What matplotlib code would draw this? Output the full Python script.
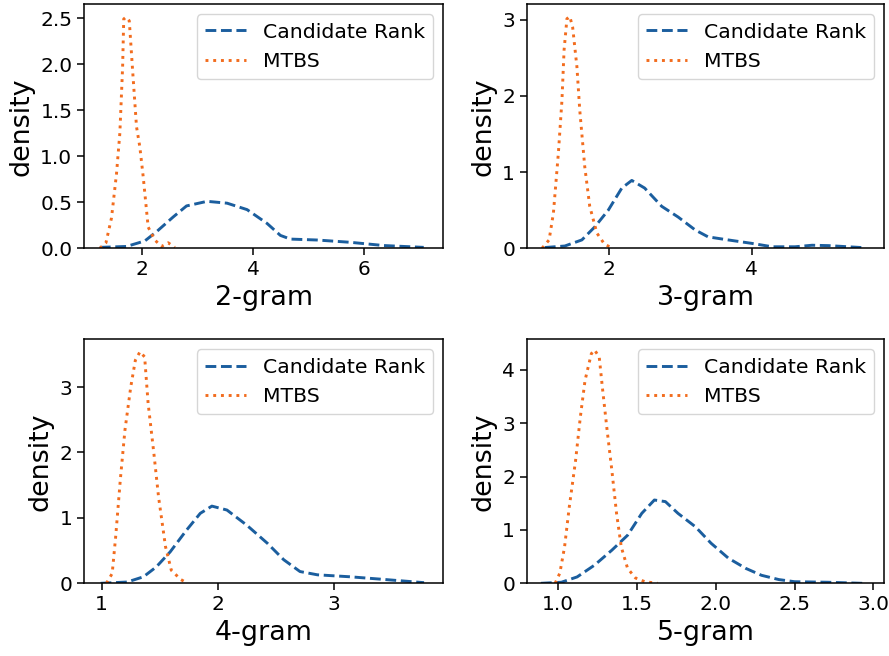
import numpy as np
import matplotlib
matplotlib.use('Agg')
import matplotlib.pyplot as plt

# values (x, density)
cr2_x = [1.24, 1.72, 2.05, 2.26, 2.56, 2.80, 3.17, 3.53, 3.89, 4.25, 4.49, 4.67, 5.15, 5.75, 6.35, 7.07]
cr2_y = [0.01, 0.02, 0.08, 0.18, 0.34, 0.46, 0.51, 0.49, 0.42, 0.27, 0.14, 0.10, 0.09, 0.065, 0.03, 0.01]
mt2_x = [1.24, 1.35, 1.45, 1.54, 1.60, 1.65, 1.67, 1.71, 1.77, 1.83, 1.90, 1.96, 2.02, 2.11, 2.23, 2.35, 2.47, 2.59]
mt2_y = [0.0, 0.06, 0.33, 0.81, 1.25, 1.97, 2.49, 2.51, 2.47, 1.93, 1.32, 1.10, 0.78, 0.23, 0.09, 0.02, 0.06, 0.01]

cr3_x = [1.10, 1.38, 1.62, 1.80, 1.99, 2.18, 2.32, 2.50, 2.74, 2.97, 3.21, 3.39, 3.67, 4.00, 4.29, 4.61, 4.85, 5.08, 5.54]
cr3_y = [0.01, 0.03, 0.11, 0.28, 0.50, 0.79, 0.89, 0.79, 0.55, 0.41, 0.24, 0.15, 0.11, 0.065, 0.02, 0.02, 0.04, 0.035, 0.01]
mt3_x = [1.06, 1.16, 1.22, 1.29, 1.34, 1.37, 1.41, 1.45, 1.49, 1.55, 1.59, 1.66, 1.73, 1.83, 1.94, 2.06]
mt3_y = [0.0, 0.11, 0.46, 1.25, 1.94, 2.60, 3.01, 3.04, 2.90, 2.38, 1.81, 1.07, 0.55, 0.20, 0.05, 0.0]

cr4_x = [0.99, 1.22, 1.36, 1.47, 1.59, 1.73, 1.85, 1.95, 2.08, 2.25, 2.43, 2.57, 2.71, 2.86, 3.14, 3.43, 3.78]
cr4_y = [0.0, 0.02, 0.10, 0.25, 0.48, 0.81, 1.07, 1.18, 1.12, 0.89, 0.61, 0.36, 0.18, 0.13, 0.10, 0.06, 0.01]
mt4_x = [1.04, 1.09, 1.12, 1.16, 1.20, 1.25, 1.29, 1.33, 1.37, 1.40, 1.45, 1.49, 1.55, 1.60, 1.68, 1.74]
mt4_y = [0.0, 0.15, 0.71, 1.58, 2.34, 3.00, 3.41, 3.54, 3.46, 2.75, 1.98, 1.32, 0.56, 0.20, 0.06, 0.0]

cr5_x = [0.89, 1.02, 1.12, 1.23, 1.34, 1.44, 1.53, 1.61, 1.68, 1.76, 1.87, 1.97, 2.08, 2.19, 2.29, 2.40, 2.50, 2.71, 2.93]
cr5_y = [0.0, 0.02, 0.12, 0.34, 0.62, 0.90, 1.31, 1.56, 1.53, 1.31, 1.06, 0.75, 0.47, 0.28, 0.15, 0.07, 0.03, 0.02, 0.0]
mt5_x = [0.98, 1.01, 1.04, 1.07, 1.11, 1.14, 1.17, 1.21, 1.23, 1.26, 1.28, 1.31, 1.34, 1.37, 1.40, 1.44, 1.49, 1.55, 1.63]
mt5_y = [0.0, 0.19, 0.68, 1.43, 2.30, 3.11, 3.80, 4.30, 4.37, 4.24, 3.67, 2.87, 2.12, 1.31, 0.68, 0.28, 0.10, 0.03, 0.0]

panels = [
    ('2-gram', cr2_x, cr2_y, mt2_x, mt2_y, (0.955, 7.42), (0, 2.65), [2, 4, 6], [0.0, 0.5, 1.0, 1.5, 2.0, 2.5], '%.1f'),
    ('3-gram', cr3_x, cr3_y, mt3_x, mt3_y, (0.846, 5.86), (0, 3.2), [2, 4], [0, 1, 2, 3], '%d'),
    ('4-gram', cr4_x, cr4_y, mt4_x, mt4_y, (0.847, 3.945), (0, 3.73), [1, 2, 3], [0, 1, 2, 3], '%d'),
    ('5-gram', cr5_x, cr5_y, mt5_x, mt5_y, (0.8, 3.068), (0, 4.57), [1.0, 1.5, 2.0, 2.5, 3.0], [0, 1, 2, 3, 4], '%d'),
]

# axes boxes in figure fractions
boxes = [
    [0.0945, 0.6215, 0.404, 0.372],
    [0.5925, 0.6215, 0.402, 0.372],
    [0.0945, 0.1108, 0.404, 0.372],
    [0.5925, 0.1108, 0.402, 0.372],
]

blue = '#1b5e9e'
orange = '#f26c1e'

plt.rcParams['axes.linewidth'] = 1.1
plt.rcParams['xtick.major.width'] = 1.1
plt.rcParams['ytick.major.width'] = 1.1
plt.rcParams['xtick.major.size'] = 4.9
plt.rcParams['ytick.major.size'] = 4.9

fig = plt.figure(figsize=(8.89, 6.56), dpi=100)

for box, (name, cx, cy, mx, my, xl, yl, xt, yt, fmt) in zip(boxes, panels):
    ax = fig.add_axes(box)
    ax.plot(cx, cy, '--', color=blue, lw=2.1, label='Candidate Rank')
    ax.plot(mx, my, ':', color=orange, lw=2.1, label='MTBS')
    ax.set_xlim(xl)
    ax.set_ylim(yl)
    ax.set_xticks(xt)
    ax.set_yticks(yt)
    if name == '5-gram':
        ax.set_xticklabels(['%.1f' % v for v in xt])
    ax.set_yticklabels([fmt % v for v in yt])
    ax.tick_params(labelsize=14.5)
    ax.set_xlabel(name, fontsize=19.4)
    ax.set_ylabel('density', fontsize=19.4)
    ax.legend(loc='upper right', fontsize=14.7)

fig.savefig('out.png', dpi=100)
